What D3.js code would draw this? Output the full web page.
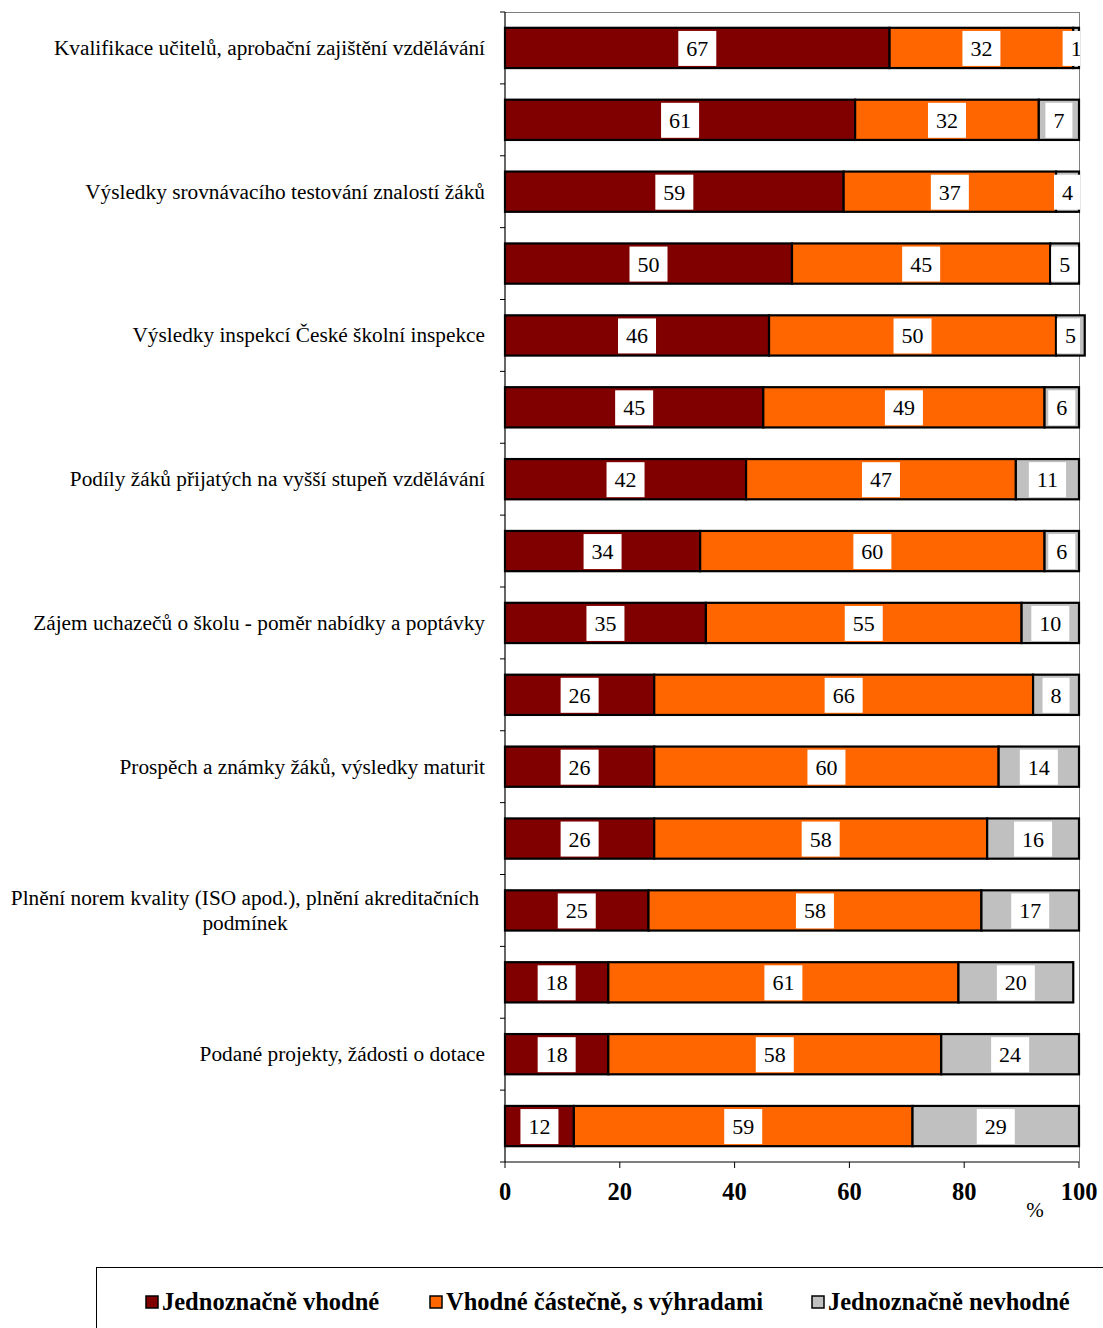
<!DOCTYPE html>
<html><head><meta charset="utf-8">
<script src="https://cdn.jsdelivr.net/npm/d3@7"></script>
<style>body{margin:0;background:#fff}svg{display:block}</style>
</head><body>
<svg id="c" width="1103" height="1328"></svg>
<script>
const categories = [
  ["Kvalifikace učitelů, aprobační zajištění vzdělávání"], [""],
  ["Výsledky srovnávacího testování znalostí žáků"], [""],
  ["Výsledky inspekcí České školní inspekce"], [""],
  ["Podíly žáků přijatých na vyšší stupeň vzdělávání"], [""],
  ["Zájem uchazečů o školu - poměr nabídky a poptávky"], [""],
  ["Prospěch a známky žáků, výsledky maturit"], [""],
  ["Plnění norem kvality (ISO apod.), plnění akreditačních", "podmínek"], [""],
  ["Podané projekty, žádosti o dotace"], [""]
];
const seriesNames = ["Jednoznačně vhodné", "Vhodné částečně, s výhradami", "Jednoznačně nevhodné"];
const vhodne   = [67, 61, 59, 50, 46, 45, 42, 34, 35, 26, 26, 26, 25, 18, 18, 12];
const castecne = [32, 32, 37, 45, 50, 49, 47, 60, 55, 66, 60, 58, 58, 61, 58, 59];
const nevhodne = [1, 7, 4, 5, 5, 6, 11, 6, 10, 8, 14, 16, 17, 20, 24, 29];
const xTicks = [0, 20, 40, 60, 80, 100];
const colors = ["#800000", "#FF6600", "#C0C0C0"];

const FF = "Liberation Serif, Times New Roman, serif";
const svg = d3.select("#c");
const L = 505, R = 1079, T = 12, B = 1162;
const x = d3.scaleLinear().domain([0, 100]).range([L, R]);
const idx = d3.range(categories.length);
const y = d3.scaleBand().domain(idx).range([T, B]).paddingInner(0.44).paddingOuter(0.22);
const yb = d3.scaleBand().domain(idx).range([T, B]);

const rows = idx.map(i => ({i, v: [vhodne[i], castecne[i], nevhodne[i]]}));
const stack = d3.stack().keys([0, 1, 2]).value((d, k) => d.v[k]);
const stacked = stack(rows);

// frame
svg.append("line").attr("x1", L).attr("x2", R).attr("y1", T + 0.5).attr("y2", T + 0.5).attr("stroke", "#808080").attr("stroke-width", 1);
svg.append("line").attr("x1", R + 0.5).attr("x2", R + 0.5).attr("y1", T).attr("y2", B).attr("stroke", "#808080").attr("stroke-width", 1);

// bars
stacked.forEach((s, k) => {
  svg.append("g").selectAll("rect").data(s).join("rect")
    .attr("x", d => x(d[0]))
    .attr("width", d => x(d[1]) - x(d[0]))
    .attr("y", d => y(d.data.i))
    .attr("height", y.bandwidth())
    .attr("fill", colors[k])
    .attr("stroke", "#000").attr("stroke-width", 2.2);
});

// labels
svg.append("defs").append("clipPath").attr("id", "lc").append("rect")
  .attr("x", 0).attr("y", 0).attr("width", R + 1).attr("height", 1328);
const lg = svg.append("g").attr("clip-path", "url(#lc)");
stacked.forEach((s, k) => {
  s.forEach(d => {
    const cx = x((d[0] + d[1]) / 2), cy = y(d.data.i) + y.bandwidth() / 2;
    const g = lg.append("g");
    const r = g.append("rect").attr("fill", "#fff");
    const t = g.append("text").attr("x", cx).attr("y", cy + 8)
      .attr("text-anchor", "middle").attr("font-family", FF)
      .attr("font-size", 22).text(d.data.v[k]);
    const bb = t.node().getBBox();
    const w = bb.width + 16;
    r.attr("x", cx - w / 2).attr("width", w).attr("y", cy - 17).attr("height", 35);
  });
});

// left axis
svg.append("line").attr("x1", L).attr("x2", L).attr("y1", T).attr("y2", B).attr("stroke", "#000").attr("stroke-width", 1.2);
svg.append("g").selectAll("line").data(d3.range(categories.length + 1)).join("line")
  .attr("x1", L - 5).attr("x2", L)
  .attr("y1", d => T + d * yb.step()).attr("y2", d => T + d * yb.step())
  .attr("stroke", "#000").attr("stroke-width", 1);

// category labels
categories.forEach((lines, i) => {
  if (!lines[0]) return;
  const cy = yb(i) + yb.bandwidth() / 2;
  const multi = lines.length > 1;
  const t = svg.append("text")
    .attr("font-family", FF).attr("font-size", 21.3)
    .attr("text-anchor", multi ? "middle" : "end").attr("fill", "#000");
  lines.forEach((ln, j) => {
    t.append("tspan").attr("x", multi ? 245 : 485)
      .attr("y", cy + 7 + (j - (lines.length - 1) / 2) * 25).text(ln);
  });
});

// bottom axis
svg.append("line").attr("x1", L).attr("x2", R).attr("y1", B).attr("y2", B).attr("stroke", "#000").attr("stroke-width", 1.2);
const xa = svg.append("g");
xa.selectAll("line").data(xTicks).join("line")
  .attr("x1", d => x(d)).attr("x2", d => x(d)).attr("y1", B).attr("y2", B + 6)
  .attr("stroke", "#000").attr("stroke-width", 1);
xa.selectAll("text").data(xTicks).join("text")
  .attr("x", d => x(d)).attr("y", 1200).attr("text-anchor", "middle")
  .attr("font-family", FF).attr("font-size", 24.5).attr("font-weight", "bold")
  .text(d => d);
svg.append("text").attr("x", 1035).attr("y", 1217).attr("text-anchor", "middle")
  .attr("font-family", FF).attr("font-size", 21).text("%");

// legend
svg.append("rect").attr("x", 96.5).attr("y", 1267.5).attr("width", 1020).attr("height", 100)
  .attr("fill", "none").attr("stroke", "#000").attr("stroke-width", 1);
const legX = [146, 430, 812];
seriesNames.forEach((n, k) => {
  svg.append("rect").attr("x", legX[k]).attr("y", 1296).attr("width", 12).attr("height", 12)
    .attr("fill", colors[k]).attr("stroke", "#000").attr("stroke-width", 1.5);
  svg.append("text").attr("x", legX[k] + 16).attr("y", 1310)
    .attr("font-family", FF).attr("font-size", 24.5).attr("font-weight", "bold")
    .text(n);
});
</script>
</body></html>
